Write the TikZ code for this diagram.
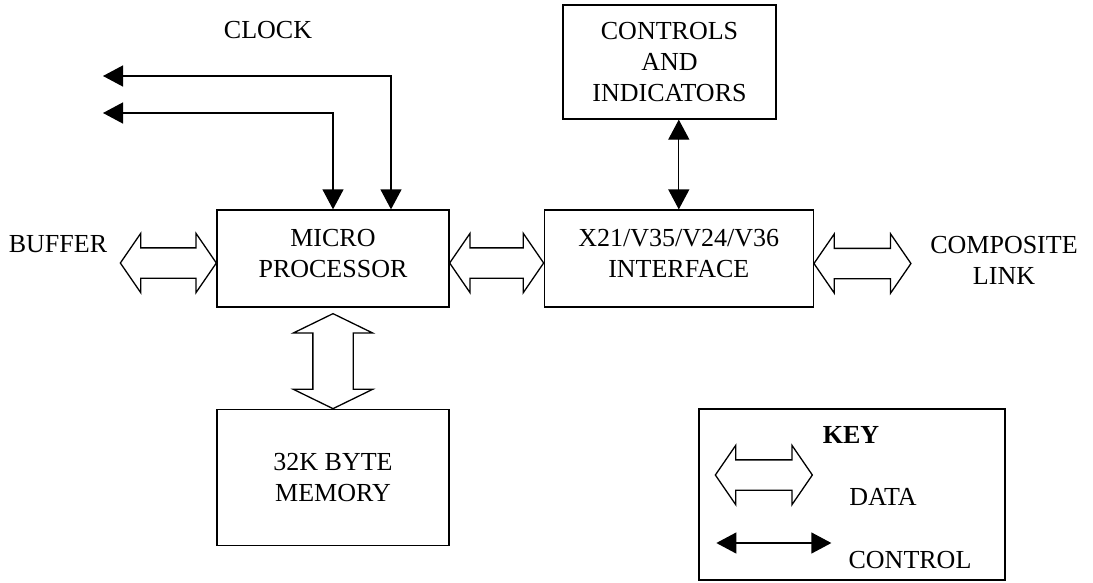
\documentclass[tikz,border=0pt]{standalone}
\usepackage{fontspec}
\setmainfont{Liberation Serif}
\usetikzlibrary{shapes,arrows.meta,positioning,calc}

\begin{document}
\begin{tikzpicture}[x=1pt, y=-1pt, line width=1.3pt,
    every node/.style={font=\fontsize{26}{31}\selectfont, align=center},
    block/.style={draw, rectangle, inner sep=0pt},
    bus/.style={double arrow, draw, inner xsep=0pt, inner ysep=14.5pt,
        double arrow head extend=14.5pt, double arrow tip angle=111, minimum height=#1},
    wide bus/.style={double arrow, draw, inner xsep=0pt, inner ysep=19.5pt,
        double arrow head extend=19.5pt, double arrow tip angle=128, minimum height=#1, rotate=90},
    ctl arrow/.style={{Triangle[length=20pt, width=21pt]}-{Triangle[length=20pt, width=21pt]}}]
    \useasboundingbox (0,0) rectangle (1093,582);
    % blocks
    \node[block, minimum width=232pt, minimum height=97pt, text depth=10pt] (mp) at (333,258.5) {MICRO\\PROCESSOR};
    \node[block, minimum width=269pt, minimum height=97pt, text depth=10pt, right=94pt of mp] (ifc) {X21/V35/V24/V36\\INTERFACE};
    \node[block, minimum width=213pt, minimum height=114pt] (ctl) at (669.5,62) {CONTROLS\\AND\\INDICATORS};
    \node[block, minimum width=232pt, minimum height=136pt, below=101pt of mp] (mem) {32K BYTE\\MEMORY};
    \node[block, minimum width=306pt, minimum height=171pt] (key) at (852,494.5) {};
    % labels
    \node (clock) at (268,30) {CLOCK};
    \node (buffer) at (58,244) {BUFFER};
    \node (link) at (1004,260) {COMPOSITE\\LINK};
    \node[font=\fontsize{26}{31}\selectfont\bfseries] (keyt) at (851,435) {KEY};
    \node (datat) at (883,497) {DATA};
    \node (ctlt) at (910,560) {CONTROL};
    % data paths
    \node[bus=96pt] (bufbus) at ($(mp.west)+(-48,4.5)$) {};
    \node[bus=94pt] (midbus) at ($(mp.east)!0.5!(ifc.west)+(0,4.5)$) {};
    \node[bus=97pt] (linkbus) at ($(ifc.east)+(48.5,5)$) {};
    \node[wide bus=95pt] (membus) at ($(mp.south)!0.5!(mem.north)+(0,3)$) {};
    \node[bus=97pt] (keybus) at ($(key.west)+(65.5,-19.5)$) {};
    % control lines
    \coordinate (clk1) at (103,76);
    \coordinate (clk2) at (103,113);
    \coordinate (mpin) at ($(mp.north)+(58,0)$);
    \draw[ctl arrow] (clk1) -| (mpin);
    \draw[ctl arrow] (clk2) -| (mp.north);
    \draw[ctl arrow] (ctl.south -| ifc.north) -- (ifc.north);
    \coordinate (k1) at ($(key.west)+(18,48.5)$);
    \coordinate (k2) at ($(k1)+(115,0)$);
    \draw[ctl arrow] (k1) -- (k2);
\end{tikzpicture}
\end{document}
